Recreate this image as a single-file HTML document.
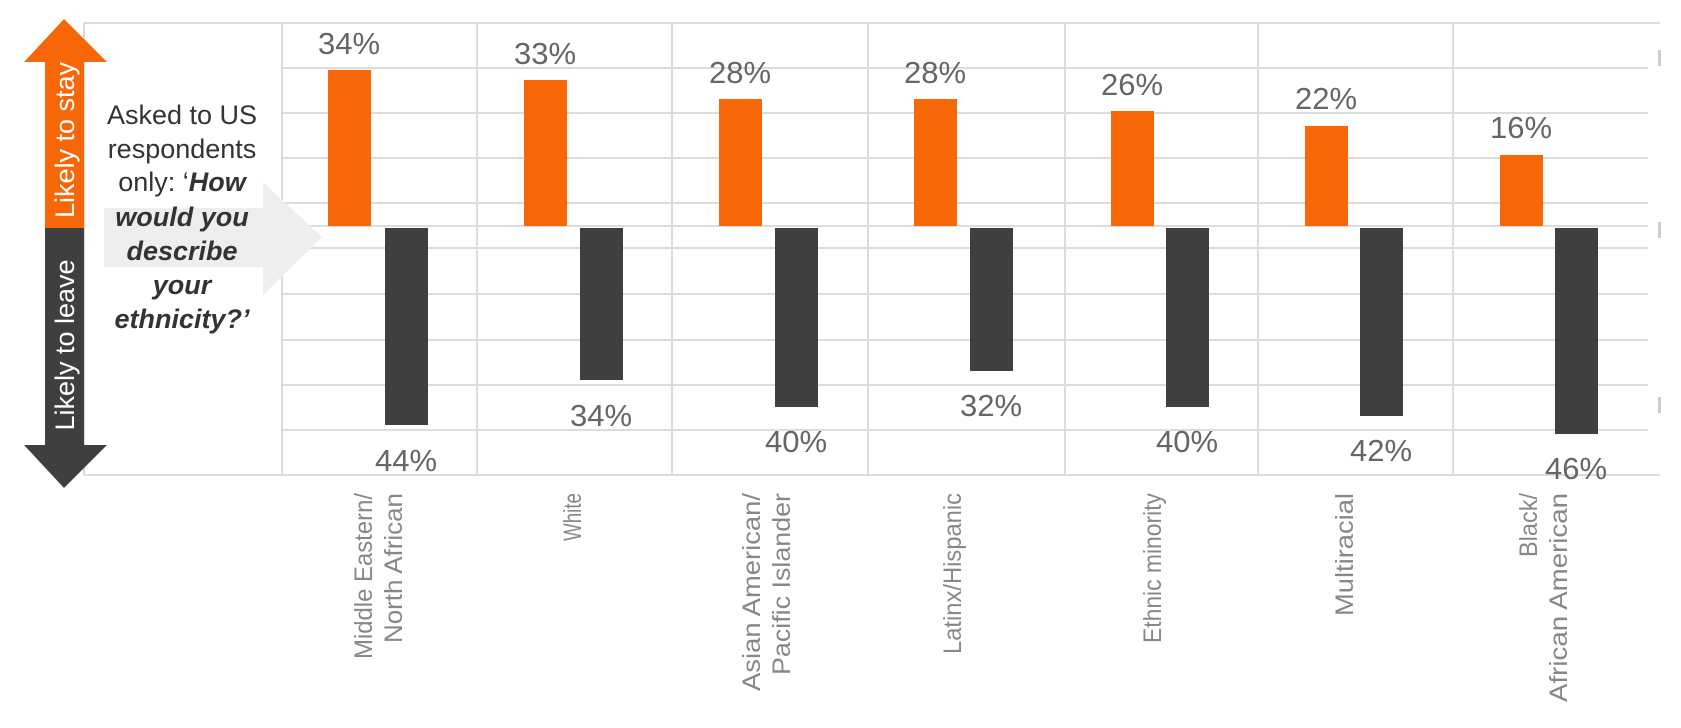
<!DOCTYPE html>
<html><head><meta charset="utf-8"><style>
html,body{margin:0;padding:0;background:#fff;}
svg{display:block;}
text{font-family:"Liberation Sans",Arial,sans-serif;}
</style></head><body>
<svg width="1681" height="728" viewBox="0 0 1681 728" xmlns="http://www.w3.org/2000/svg">
<g stroke="#dcdcdc" stroke-width="2" fill="none">
<line x1="84" y1="23" x2="1660" y2="23"/>
<line x1="282" y1="68" x2="1648" y2="68"/>
<line x1="282" y1="113" x2="1648" y2="113"/>
<line x1="282" y1="158" x2="1648" y2="158"/>
<line x1="282" y1="203" x2="1648" y2="203"/>
<line x1="282" y1="226" x2="1648" y2="226"/>
<line x1="282" y1="248" x2="1648" y2="248"/>
<line x1="282" y1="294" x2="1648" y2="294"/>
<line x1="282" y1="340" x2="1648" y2="340"/>
<line x1="282" y1="385" x2="1648" y2="385"/>
<line x1="282" y1="430" x2="1648" y2="430"/>
<line x1="84" y1="475" x2="1660" y2="475"/>
<line x1="84" y1="23" x2="84" y2="475"/>
<line x1="282" y1="23" x2="282" y2="475"/>
<line x1="477" y1="23" x2="477" y2="475"/>
<line x1="672" y1="23" x2="672" y2="475"/>
<line x1="868" y1="23" x2="868" y2="475"/>
<line x1="1065" y1="23" x2="1065" y2="475"/>
<line x1="1258" y1="23" x2="1258" y2="475"/>
<line x1="1453" y1="23" x2="1453" y2="475"/>
</g>
<g fill="#ccc"><rect x="1658" y="50" width="3" height="16"/><rect x="1658" y="222" width="3" height="16"/><rect x="1658" y="397" width="3" height="16"/></g>

<polygon points="24,62 64,19 107,62 84,62 84,228 45,228 45,62" fill="#f76707"/>
<polygon points="45,228 84,228 84,445 107,445 64,488 24,445 45,445" fill="#3f3f3f"/>
<text transform="translate(74,140) rotate(-90)" text-anchor="middle" fill="#fff" font-size="27">Likely to stay</text>
<text transform="translate(74,345) rotate(-90)" text-anchor="middle" fill="#fff" font-size="27">Likely to leave</text>

<polygon points="104,208 263,208 263,182 322,237 263,295 263,267 104,267" fill="#eeeeee"/>
<g font-size="27" fill="#333" text-anchor="middle">
<text x="182" y="124">Asked to US</text>
<text x="182" y="158">respondents</text>
<text x="182" y="191">only: ‘<tspan font-weight="bold" font-style="italic">How</tspan></text>
<text x="182" y="226" font-weight="bold" font-style="italic">would you</text>
<text x="182" y="260" font-weight="bold" font-style="italic">describe</text>
<text x="182" y="294" font-weight="bold" font-style="italic">your</text>
<text x="182" y="328" font-weight="bold" font-style="italic">ethnicity?’</text>
</g>

<g fill="#f76707">
<rect x="328" y="70" width="43" height="156"/>
<rect x="524" y="80" width="43" height="146"/>
<rect x="719" y="99" width="43" height="127"/>
<rect x="914" y="99" width="43" height="127"/>
<rect x="1111" y="111" width="43" height="115"/>
<rect x="1305" y="126" width="43" height="100"/>
<rect x="1500" y="155" width="43" height="71"/>
</g>
<g fill="#3f3f3f">
<rect x="385" y="228" width="43" height="197"/>
<rect x="580" y="228" width="43" height="152"/>
<rect x="775" y="228" width="43" height="179"/>
<rect x="970" y="228" width="43" height="143"/>
<rect x="1166" y="228" width="43" height="179"/>
<rect x="1360" y="228" width="43" height="188"/>
<rect x="1555" y="228" width="43" height="206"/>
</g>
<g font-size="31" fill="#666" text-anchor="middle">
<text x="349" y="54">34%</text>
<text x="545" y="64">33%</text>
<text x="740" y="83">28%</text>
<text x="935" y="83">28%</text>
<text x="1132" y="95">26%</text>
<text x="1326" y="109">22%</text>
<text x="1521" y="138">16%</text>
<text x="406" y="471">44%</text>
<text x="601" y="426">34%</text>
<text x="796" y="452">40%</text>
<text x="991" y="416">32%</text>
<text x="1187" y="452">40%</text>
<text x="1381" y="461">42%</text>
<text x="1576" y="479">46%</text>
</g>

<g font-size="25" fill="#888" text-anchor="end">
<text transform="translate(372,493) rotate(-90)" textLength="166" lengthAdjust="spacingAndGlyphs">Middle Eastern/</text>
<text transform="translate(402,493) rotate(-90)" textLength="150" lengthAdjust="spacingAndGlyphs">North African</text>
<text transform="translate(581,493) rotate(-90)" textLength="48" lengthAdjust="spacingAndGlyphs">White</text>
<text transform="translate(760,493) rotate(-90)" textLength="198" lengthAdjust="spacingAndGlyphs">Asian American/</text>
<text transform="translate(790,493) rotate(-90)" textLength="182" lengthAdjust="spacingAndGlyphs">Pacific Islander</text>
<text transform="translate(961,493) rotate(-90)" textLength="161" lengthAdjust="spacingAndGlyphs">Latinx/Hispanic</text>
<text transform="translate(1161,493) rotate(-90)" textLength="150" lengthAdjust="spacingAndGlyphs">Ethnic minority</text>
<text transform="translate(1353,493) rotate(-90)" textLength="123" lengthAdjust="spacingAndGlyphs">Multiracial</text>
<text transform="translate(1537,493) rotate(-90)" textLength="64" lengthAdjust="spacingAndGlyphs">Black/</text>
<text transform="translate(1567,493) rotate(-90)" textLength="209" lengthAdjust="spacingAndGlyphs">African American</text>
</g>
</svg>
</body></html>
